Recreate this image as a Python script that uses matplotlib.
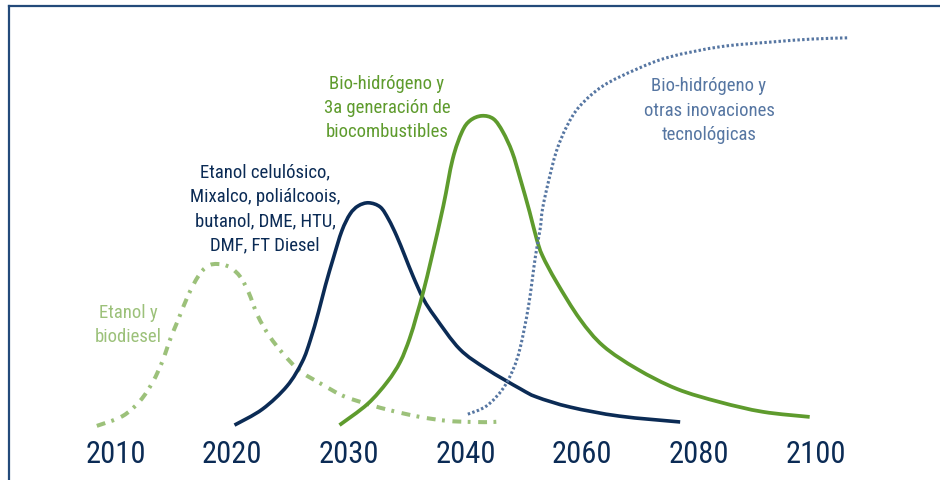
import matplotlib
matplotlib.use("Agg")
import matplotlib.pyplot as plt
from matplotlib.lines import Line2D
from matplotlib.path import Path
from matplotlib.patches import PathPatch

plt.rcParams['font.family'] = ['Roboto Condensed', 'Archivo Narrow',
                               'Liberation Sans Narrow', 'DejaVu Sans']

# Timeline: evenly spaced milestones (index positions) with their year labels
tick_pos = [0, 1, 2, 3, 4, 5, 6]
tick_labels = ["2010", "2020", "2030", "2040", "2060", "2080", "2100"]

# First generation: ethanol and biodiesel
gen1_x = [-0.16, 0.06, 0.21, 0.32, 0.40, 0.47, 0.54, 0.62, 0.71, 0.79, 0.88, 0.98,
          1.07, 1.14, 1.22, 1.32, 1.44, 1.58, 1.75, 1.95, 2.16, 2.38, 2.61, 2.84,
          3.06, 3.24, 3.30]
gen1_y = [0.8, 3.3, 7.2, 12.1, 17.2, 23.1, 28.2, 34.1, 39.2, 41.8, 42.3, 41.5,
          39.0, 35.1, 29.0, 23.8, 19.2, 14.9, 11.8, 8.5, 6.4, 4.6, 3.1, 2.1,
          1.8, 1.8, 2.1]

# Second generation: cellulosic ethanol, Mixalco, polyalcohols, ...
gen2_x = [1.02, 1.26, 1.47, 1.60, 1.67, 1.74, 1.80, 1.87, 1.94, 2.01, 2.08, 2.17,
          2.27, 2.34, 2.41, 2.48, 2.55, 2.64, 2.74, 2.95, 3.18, 3.47, 3.61, 3.90,
          4.32, 4.84]
gen2_y = [1.0, 5.1, 11.0, 17.2, 22.8, 30.0, 36.9, 44.1, 50.8, 55.1, 57.2, 58.0,
          56.9, 53.8, 49.5, 44.4, 39.2, 33.3, 28.7, 20.5, 15.4, 10.3, 8.2, 5.6,
          3.3, 1.8]

# Third generation: bio-hydrogen and third-generation biofuels
gen3_x = [1.92, 2.16, 2.33, 2.44, 2.52, 2.58, 2.64, 2.71, 2.81, 2.89, 2.97,
          3.04, 3.14, 3.24, 3.32, 3.40, 3.47, 3.55, 3.61, 3.66, 3.78, 3.98, 4.18,
          4.47, 4.81, 5.18, 5.55, 5.95]
gen3_y = [1.0, 6.4, 12.1, 17.2, 23.1, 29.0, 35.4, 44.0, 57.2, 69.2, 76.2,
          79.1, 80.3, 79.5, 76.2, 71.0, 64.1, 55.6, 48.7, 44.4, 37.7, 28.2, 21.3,
          15.4, 10.3, 6.9, 4.4, 3.1]

# Bio-hydrogen and other technological innovations
gen4_x = [3.02, 3.18, 3.32, 3.41, 3.47, 3.54, 3.60, 3.64, 3.66, 3.71, 3.78, 3.87,
          3.98, 4.18, 4.47, 4.75, 5.18, 5.61, 5.98, 6.28]
gen4_y = [3.8, 5.9, 10.3, 15.4, 21.0, 31.5, 44.4, 51.3, 56.4, 63.3, 71.3, 77.7,
          82.8, 88.0, 92.3, 95.4, 98.0, 99.2, 100.0, 100.3]

NAVY = "#0b2b55"
GREEN = "#5e9b2d"
LIGHT_GREEN = "#9cc17a"
STEEL = "#5676a2"


def smooth_path(xs, ys):
    """Catmull-Rom curve through the points, expressed as cubic Bezier segments."""
    pts = list(zip(xs, ys))
    verts = [pts[0]]
    codes = [Path.MOVETO]
    n = len(pts)
    for i in range(n - 1):
        p0 = pts[max(i - 1, 0)]
        p1 = pts[i]
        p2 = pts[i + 1]
        p3 = pts[min(i + 2, n - 1)]
        c1 = (p1[0] + (p2[0] - p0[0]) / 6, p1[1] + (p2[1] - p0[1]) / 6)
        c2 = (p2[0] - (p3[0] - p1[0]) / 6, p2[1] - (p3[1] - p1[1]) / 6)
        verts += [c1, c2, p2]
        codes += [Path.CURVE4] * 3
    return Path(verts, codes)


W, H = 940, 481
fig = plt.figure(figsize=(W / 100, H / 100), dpi=100)
fig.patch.set_facecolor("white")

# Axes: value 0 sits at pixel row 430; one timeline step is ~116.7 px
x0_px, step_px = 115.5, 700 / 6
base_px, unit_px = 430, 3.9
ax = fig.add_axes([0, (H - base_px) / H, 1, base_px / H])
ax.set_xlim(-x0_px / step_px, (W - x0_px) / step_px)
ax.set_ylim(0, base_px / unit_px)
for s in ax.spines.values():
    s.set_visible(False)
ax.set_yticks([])
ax.set_xticks(tick_pos)
ax.set_xticklabels(tick_labels)
ax.tick_params(axis="x", length=0, pad=7, labelsize=22, labelcolor=NAVY)
ax.patch.set_alpha(0)

curves = [
    (gen1_x, gen1_y, dict(edgecolor=LIGHT_GREEN, lw=2.9,
                          linestyle=(0, (2.2, 1.6, 0.7, 1.9)), capstyle="butt")),
    (gen2_x, gen2_y, dict(edgecolor=NAVY, lw=2.6, capstyle="butt")),
    (gen3_x, gen3_y, dict(edgecolor=GREEN, lw=2.7, capstyle="butt")),
    (gen4_x, gen4_y, dict(edgecolor=STEEL, lw=2.2,
                          linestyle=(0, (0.8, 0.75)), capstyle="butt")),
]
for xs, ys, style in curves:
    ax.add_patch(PathPatch(smooth_path(xs, ys), fill=False, clip_on=False,
                           joinstyle="round", **style))

label_kw = dict(ha="center", va="center", fontsize=13.5, linespacing=1.44)
ax.text(0.107, 26.9, "Etanol y\nbiodiesel", color=LIGHT_GREEN, **label_kw)
ax.text(1.281, 56.7, "Etanol celulósico,\nMixalco, poliálcoois,\nbutanol, DME, HTU,\nDMF, FT Diesel",
        color=NAVY, **label_kw)
ax.text(2.327, 82.6, "Bio-hidrógeno y\n3a generación de\nbiocombustibles",
        color=GREEN, **label_kw)
ax.text(5.087, 81.9, "Bio-hidrógeno y\notras inovaciones\ntecnológicas",
        color=STEEL, **label_kw)

# Panel frame: top and left rules
frame_c = "#234a7a"
fig.add_artist(Line2D([8.5 / W, 8.5 / W], [0, 1 - 6.5 / H], color=frame_c,
                      lw=1.6, transform=fig.transFigure, solid_capstyle="projecting"))
fig.add_artist(Line2D([8.5 / W, 1], [1 - 6.5 / H, 1 - 6.5 / H], color=frame_c,
                      lw=1.6, transform=fig.transFigure, solid_capstyle="projecting"))

fig.savefig("out.png", dpi=100)
